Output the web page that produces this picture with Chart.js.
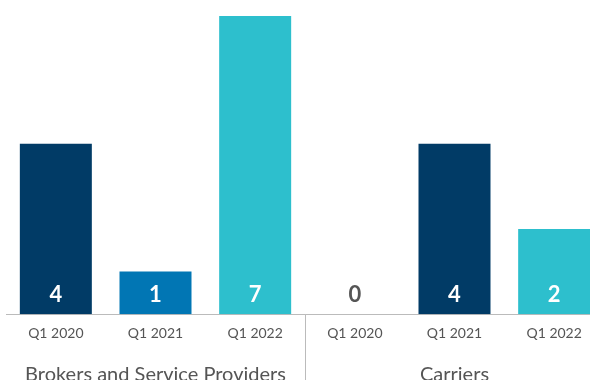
<!DOCTYPE html>
<html>
<head>
<meta charset="utf-8">
<script src="https://cdn.jsdelivr.net/npm/chart.js@4"></script>
<style>
  body { margin: 0; overflow: hidden; background: #fff; }
  #wrap { position: relative; width: 604px; height: 397px; }
</style>
</head>
<body>
<div id="wrap"><canvas id="chart"></canvas></div>
<script>
// chart data
const quarters = ['Q1 2020', 'Q1 2021', 'Q1 2022', 'Q1 2020', 'Q1 2021', 'Q1 2022'];
const groups = ['Brokers and Service Providers', 'Carriers'];
const values = [4, 1, 7, 0, 4, 2];
const barColors = ['#013b66', '#0176b4', '#2dbfcd', '#2dbfcd', '#013b66', '#2dbfcd'];

// group label sits under the middle bar of each group of three
const groupLabels = quarters.map((q, i) => (i % 3 === 1 ? groups[Math.floor(i / 3)] : ''));

const textGray = '#555555';

// value labels near the bar base and the divider between groups
const barLabels = {
    id: 'barLabels',
    afterDatasetsDraw(chart) {
        const ctx = chart.ctx;
        const meta = chart.getDatasetMeta(0);
        ctx.save();
        ctx.font = 'bold 22px Lato';
        ctx.textAlign = 'center';
        ctx.textBaseline = 'middle';
        meta.data.forEach((bar, i) => {
            ctx.fillStyle = values[i] === 0 ? textGray : '#ffffff';
            ctx.fillText(values[i], bar.x, bar.base - 19);
        });

        const xs = chart.scales.x;
        const divX = Math.round((xs.getPixelForValue(2) + xs.getPixelForValue(3)) / 2) + 0.5;
        ctx.strokeStyle = '#bbbbbb';
        ctx.lineWidth = 1;
        ctx.beginPath();
        ctx.moveTo(divX, chart.chartArea.bottom);
        ctx.lineTo(divX, chart.height);
        ctx.stroke();
        ctx.restore();
    }
};

new Chart(document.getElementById('chart'), {
    type: 'bar',
    data: {
        labels: quarters,
        datasets: [{
            data: values,
            backgroundColor: barColors,
            barPercentage: 0.7224,
            categoryPercentage: 1.0
        }]
    },
    options: {
        responsive: true,
        maintainAspectRatio: false,
        animation: false,
        layout: { padding: { left: 6, top: 16, right: 0, bottom: 0 } },
        plugins: {
            legend: { display: false },
            tooltip: { enabled: false }
        },
        scales: {
            y: {
                display: false,
                min: 0,
                max: 7
            },
            x: {
                grid: { display: false },
                border: { display: true, color: '#bbbbbb', width: 1 },
                ticks: {
                    color: textGray,
                    font: { family: 'Lato', size: 14 },
                    padding: 3,
                    maxRotation: 0,
                    autoSkip: false
                }
            },
            x2: {
                type: 'category',
                position: 'bottom',
                labels: groupLabels,
                offset: true,
                grid: { display: false },
                border: { display: false },
                ticks: {
                    color: textGray,
                    font: { family: 'Lato', size: 20 },
                    padding: 10,
                    minRotation: 0,
                    maxRotation: 0,
                    autoSkip: false
                }
            }
        }
    },
    plugins: [barLabels]
});
</script>
</body>
</html>
